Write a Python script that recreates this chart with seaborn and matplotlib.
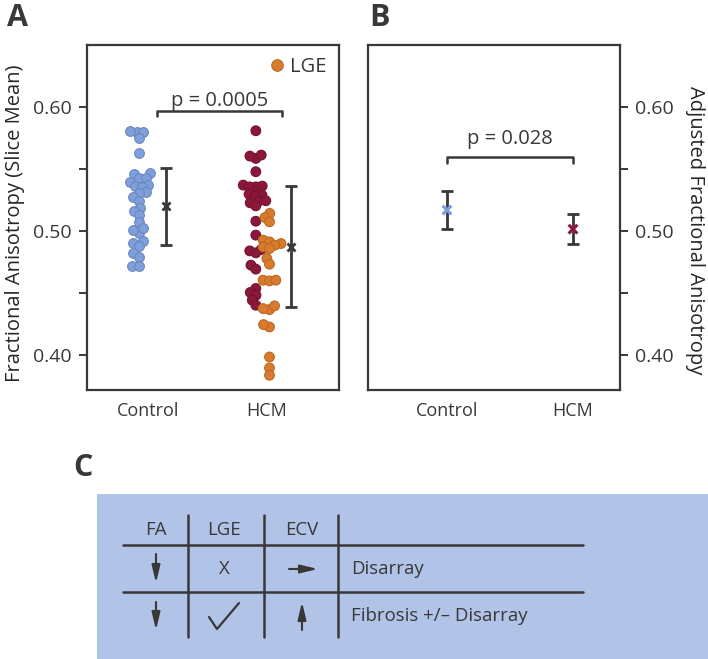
import numpy as np
import pandas as pd
import matplotlib
matplotlib.use("Agg")
import matplotlib.pyplot as plt
import matplotlib.colors as mcolors
import seaborn as sns

# Panel A - slice-mean FA per subject
control_fa = [0.5796, 0.5809, 0.5796, 0.5748, 0.5627,
              0.5460, 0.5465, 0.5425, 0.5425, 0.5398, 0.5371, 0.5363, 0.5357,
              0.5317, 0.5309, 0.5272, 0.5245, 0.5183, 0.5161, 0.5129,
              0.5075, 0.4986, 0.5013, 0.5027, 0.4922, 0.4906, 0.4881,
              0.4820, 0.4793, 0.4718, 0.4718]
hcm_no_lge_fa = [0.5809, 0.5586, 0.5613, 0.5605, 0.5479,
                 0.5357, 0.5371, 0.5363, 0.5357, 0.5298, 0.5290, 0.5282,
                 0.5228, 0.5245, 0.5245, 0.5204, 0.5080, 0.4968,
                 0.4852, 0.4841, 0.4825, 0.4726, 0.4694,
                 0.4538, 0.4506, 0.4484, 0.4444, 0.4403]
hcm_lge_fa = [0.5143, 0.5110, 0.5075, 0.4927, 0.4914, 0.4900, 0.4873, 0.4887,
              0.4860, 0.4779, 0.4734, 0.4605, 0.4599, 0.4605, 0.4368, 0.4376,
              0.4398, 0.4228, 0.4247, 0.3986, 0.3898, 0.3839]

groups = ['Control', 'HCM']
raw_mean = [0.520, 0.4875]
raw_sd = [0.031, 0.0487]
p_raw = 'p = 0.0005'

# Panel B - adjusted FA
adj_mean = [0.517, 0.5016]
adj_sd = [0.015, 0.0122]
p_adj = 'p = 0.028'

# Panel C - summary table
table_header = ['FA', 'LGE', 'ECV']
table_rows = ['Disarray', 'Fibrosis +/\u2013 Disarray']

c_blue = '#7f9fdc'
c_maroon = '#8b1739'
c_orange = '#d97b2c'
c_dark = '#383838'
c_panel = '#b1c3e6'

sns.set_theme(style='ticks')
plt.rcParams['font.family'] = ['Open Sans', 'DejaVu Sans']
plt.rcParams['text.color'] = c_dark
plt.rcParams['axes.edgecolor'] = c_dark

fig = plt.figure(figsize=(7.08, 6.59), dpi=100)

# background axes in pixel coordinates for letters and panel C
ax_c = fig.add_axes([0, 0, 1, 1])
ax_c.set_xlim(0, 708)
ax_c.set_ylim(659, 0)
ax_c.axis('off')

ax_a = fig.add_axes([87 / 708, 1 - 390 / 659, 252 / 708, 345 / 659])
ax_b = fig.add_axes([368 / 708, 1 - 390 / 659, 252 / 708, 345 / 659])

# ---- Panel A ----
df_ctrl = pd.DataFrame({'group': 'Control', 'fa': control_fa})
df_hcm = pd.DataFrame({'group': 'HCM',
                       'fa': hcm_no_lge_fa + hcm_lge_fa,
                       'lge': ['No LGE'] * len(hcm_no_lge_fa) + ['LGE'] * len(hcm_lge_fa)})

# swarm laid out with small markers so the dots overlap like the original
sns.swarmplot(data=df_ctrl, x='group', y='fa', order=groups, color=c_blue,
              size=3.8, linewidth=0.8, ax=ax_a)
sns.swarmplot(data=df_hcm, x='group', y='fa', order=groups, hue='lge',
              hue_order=['No LGE', 'LGE'], palette=[c_maroon, c_orange],
              dodge=True, size=3.6, linewidth=0.8, ax=ax_a, warn_thresh=1)

ax_a.errorbar(np.arange(len(groups)) + 0.22, raw_mean, yerr=raw_sd, fmt='x',
              color=c_dark, ms=6, mew=2, elinewidth=2, capsize=4, capthick=2)

ax_a.plot([0.14, 0.14, 1.15, 1.15], [0.5927, 0.597, 0.597, 0.5927],
          color=c_dark, lw=1.8)
ax_a.text(0.645, 0.6045, p_raw, ha='center', va='center', fontsize=14.5)

handles, labels = ax_a.get_legend_handles_labels()
lge_h = [h for h, l in zip(handles, labels) if l == 'LGE']
leg = ax_a.legend(lge_h, ['LGE'], loc='upper right', frameon=False, fontsize=14.5,
                  handlelength=0.7, handletextpad=0.3, borderaxespad=0.2,
                  markerscale=2.3)

ax_a.set_xlim(-0.42, 1.61)
ax_a.set_ylim(0.372, 0.65)
ax_a.set_xlabel('')
ax_a.set_ylabel('Fractional Anisotropy (Slice Mean)', fontsize=14.5, labelpad=6)
ax_a.yaxis.label.set_y(0.484)
ax_a.set_xticks([0.07, 1.03])
ax_a.set_xticklabels(groups)

# ---- Panel B ----
for i in range(len(groups)):
    ax_b.errorbar([i], [adj_mean[i]], yerr=[adj_sd[i]], fmt='none',
                  ecolor=c_dark, elinewidth=2, capsize=4, capthick=2)
sns.scatterplot(x=[0, 1], y=adj_mean, hue=groups, palette=[c_blue, c_maroon],
                marker='x', s=40, linewidth=2.2, legend=False, ax=ax_b,
                zorder=5)

ax_b.plot([0, 0, 1, 1], [0.555, 0.5597, 0.5597, 0.555], color=c_dark, lw=1.8)
ax_b.text(0.5, 0.574, p_adj, ha='center', va='center', fontsize=14.5)

ax_b.set_xlim(-0.627, 1.373)
ax_b.set_ylim(0.372, 0.65)
ax_b.set_xticks([0, 1])
ax_b.set_xticklabels(groups)
ax_b.yaxis.tick_right()
ax_b.yaxis.set_label_position('right')
ax_b.set_ylabel('Adjusted Fractional Anisotropy', fontsize=14.5,
                rotation=270, labelpad=22)
ax_b.yaxis.label.set_y(0.464)

for ax in (ax_a, ax_b):
    ax.set_yticks([0.40, 0.45, 0.50, 0.55, 0.60])
    ax.set_yticklabels(['0.40', '', '0.50', '', '0.60'])
    ax.tick_params(axis='y', length=6, width=1.4, labelsize=14, pad=5,
                   colors=c_dark)
    ax.tick_params(axis='x', length=0, labelsize=13, pad=9, colors=c_dark)
    for s in ax.spines.values():
        s.set_visible(True)
        s.set_linewidth(1.6)
        s.set_color(c_dark)

# ---- Panel letters ----
for txt, x, y in [('A', 7, 18), ('B', 369, 18), ('C', 73, 468)]:
    ax_c.text(x, y, txt, fontsize=22, fontweight='bold', va='center',
              ha='left', color=c_dark)

# ---- Panel C table ----
ax_c.add_patch(plt.Rectangle((97, 494), 611, 165, color=c_panel, lw=0))
col_x = [156, 224, 302]
row_y = [569, 616]
for x in [188, 264, 338]:
    ax_c.plot([x, x], [515, 637], color=c_dark, lw=1.8)
for y in [545, 592]:
    ax_c.plot([123, 583], [y, y], color=c_dark, lw=1.8)
for x, h in zip(col_x, table_header):
    ax_c.text(x, 530, h, ha='center', va='center', fontsize=13.4)
for y, lab in zip(row_y, table_rows):
    ax_c.text(351, y, lab, ha='left', va='center', fontsize=13.4)

arr = dict(arrowstyle='-|>,head_length=0.75,head_width=0.18', color=c_dark,
           lw=1.5, mutation_scale=14, shrinkA=0, shrinkB=0)
ax_c.annotate('', xy=(156, 583), xytext=(156, 554), arrowprops=arr)
ax_c.annotate('', xy=(156, 630), xytext=(156, 602), arrowprops=arr)
ax_c.text(224, 569, 'X', ha='center', va='center', fontsize=13.4)
ax_c.annotate('', xy=(318, 569), xytext=(289, 569), arrowprops=arr)
ax_c.plot([209, 217, 239], [617, 629, 603], color=c_dark, lw=1.6)
ax_c.annotate('', xy=(302, 602), xytext=(302, 630), arrowprops=arr)

# fix the swarm positions, pull the two HCM sub-swarms closer together,
# then enlarge the dots so they overlap as in the original
fig.canvas.draw()
hue_shift = {mcolors.to_hex(c_maroon): 0.14, mcolors.to_hex(c_orange): -0.15}
for coll in ax_a.collections:
    if 'draw' in coll.__dict__:
        del coll.__dict__['draw']
    if len(coll.get_offsets()) > 2:
        fc = coll.get_facecolor()[0]
        off = np.array(coll.get_offsets())
        off[:, 0] += hue_shift.get(mcolors.to_hex(fc[:3]), 0)
        coll.set_offsets(off)
        coll.set_sizes([7.0 ** 2])
        coll.set_edgecolor(tuple(np.array(mcolors.to_rgb(fc)) * 0.85))
for h in leg.legend_handles:
    if hasattr(h, 'set_markeredgecolor'):
        h.set_markeredgecolor(tuple(np.array(mcolors.to_rgb(c_orange)) * 0.85))

fig.savefig('out.png', dpi=100)
